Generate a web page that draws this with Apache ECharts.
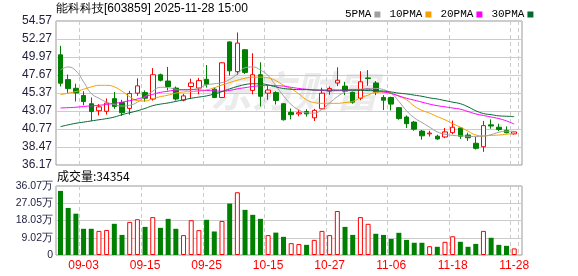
<!DOCTYPE html>
<html><head><meta charset="utf-8">
<script src="https://cdn.jsdelivr.net/npm/echarts@6/dist/echarts.min.js"></script>
<style>html,body{margin:0;padding:0;background:#fff}#c{width:578px;height:276px}</style>
</head><body><div id="c"></div>
<script>
const dates = ['08-29','09-01','09-02','09-03','09-04','09-05','09-08','09-09','09-10','09-11',
 '09-12','09-15','09-16','09-17','09-18','09-19','09-22','09-23','09-24','09-25',
 '09-26','09-29','09-30','10-09','10-10','10-13','10-14','10-15','10-16','10-17',
 '10-20','10-21','10-22','10-23','10-24','10-27','10-28','10-29','10-30','10-31',
 '11-03','11-04','11-05','11-06','11-07','11-10','11-11','11-12','11-13','11-14',
 '11-17','11-18','11-19','11-20','11-21','11-24','11-25','11-26','11-27','11-28'];
const opens = [50.25,47.08,45.97,45.05,44.0,43.1,43.03,44.65,44.15,43.4,
 45.35,45.42,44.6,47.7,46.9,46.0,44.45,46.2,46.0,47.12,
 45.86,44.8,51.9,48.1,50.9,45.7,47.7,45.35,45.42,44.0,
 42.9,42.7,43.0,42.2,43.35,45.6,46.65,46.25,45.45,44.7,
 47.3,46.65,44.8,44.8,43.5,42.3,41.65,40.5,40.15,39.85,
 39.75,40.3,40.9,40.0,38.95,38.5,41.3,41.0,40.6,40.15];
const closes = [46.62,45.93,45.38,44.28,43.0,43.6,44.08,43.65,42.85,45.3,
 46.28,44.7,47.7,47.0,46.2,44.6,45.0,46.65,46.95,46.49,
 44.8,49.23,48.2,51.75,48.0,47.7,44.95,45.75,44.42,41.95,
 42.6,42.85,42.7,43.15,45.35,45.95,47.0,45.6,44.2,46.8,
 47.2,45.5,44.45,43.95,42.1,41.45,40.75,39.9,40.25,39.5,
 40.4,41.0,39.85,39.65,38.3,41.2,41.15,40.7,40.3,40.4];
const lows = [46.2,45.38,44.28,43.8,41.8,42.5,42.61,43.35,42.45,42.6,
 45.0,44.25,44.4,46.85,45.7,44.4,44.3,44.65,45.2,46.07,
 44.72,44.72,47.6,47.7,47.8,45.2,43.65,44.5,43.9,41.85,
 42.0,42.4,42.35,41.8,43.25,45.15,46.25,45.1,44.0,44.45,
 46.3,45.1,43.2,43.15,41.95,40.9,40.55,39.4,39.8,39.4,
 39.6,40.1,39.5,39.25,38.15,37.85,40.8,40.5,40.2,40.05];
const highs = [51.4,47.72,46.55,45.6,44.8,43.95,44.68,45.5,44.5,45.65,
 47.25,45.7,48.55,47.85,48.7,46.2,45.25,47.2,47.3,48.94,
 46.07,49.3,51.95,53.1,51.0,50.45,49.3,46.35,45.6,44.05,
 43.4,43.2,43.3,43.35,46.05,46.2,48.65,46.8,45.55,48.15,
 48.3,46.9,45.1,44.9,43.55,42.5,41.8,40.65,40.55,40.05,
 40.9,41.85,41.0,40.3,39.75,41.8,42.0,41.45,41.1,40.5];
const ma5 = [48.3,48.7,48.2,46.8,45.3,44.7,44.2,43.9,43.7,43.8,
 44.2,44.9,45.6,46.1,46.05,45.85,45.75,45.8,46.0,46.4,
 46.55,46.7,47.1,47.8,48.6,48.7,48.3,47.6,46.3,45.0,
 43.9,43.2,42.85,42.8,43.3,44.1,44.9,45.5,45.85,45.85,
 45.95,45.95,45.8,45.35,44.3,43.1,42.2,41.6,41.0,40.4,
 40.1,39.95,39.9,39.85,39.8,39.85,40.05,40.35,40.5,40.45];
const ma10 = [45.15,45.35,45.55,45.85,46.15,46.35,46.35,46.15,45.6,44.9,
 44.4,44.35,44.65,44.9,45.1,45.35,45.5,45.55,45.6,45.75,
 46.05,46.4,46.7,47.0,47.25,47.4,47.4,47.3,46.95,46.35,
 45.9,45.25,44.5,44.15,44.05,44.05,44.05,44.15,44.3,44.75,
 45.1,45.45,45.5,45.35,44.95,44.5,43.7,43.15,42.8,42.35,
 41.95,41.45,41.0,40.5,40.0,39.9,39.95,40.0,40.1,40.2];
const ma20 = [43.45,43.5,43.55,43.65,43.72,43.8,43.9,44.05,44.2,44.4,
 44.6,44.9,45.2,45.45,45.6,45.75,45.8,45.8,45.75,45.7,
 45.65,45.6,45.7,45.9,46.05,46.2,46.3,46.35,46.3,46.25,
 46.1,45.95,45.85,45.75,45.7,45.66,45.66,45.7,45.75,45.8,
 45.85,45.6,45.5,45.3,45.0,44.7,44.45,44.2,43.95,43.75,
 43.6,43.45,43.3,43.0,42.7,42.5,42.3,42.1,41.8,41.4];
const ma30 = [41.07,41.3,41.5,41.65,41.8,41.95,42.1,42.3,42.6,42.85,
 43.1,43.4,43.75,43.95,44.1,44.3,44.5,44.7,44.85,45.0,
 45.25,45.55,45.9,46.2,46.45,46.55,46.55,46.4,46.15,45.95,
 45.85,45.8,45.8,45.75,45.75,45.75,45.75,45.75,45.72,45.7,
 45.68,45.66,45.62,45.5,45.35,45.25,45.1,44.95,44.75,44.6,
 44.4,44.2,44.0,43.6,43.1,42.75,42.6,42.45,42.4,42.35];
const volumes = [33.5,24.6,21.6,13.7,13.7,12.6,13.1,16.3,10.5,17.3,
 18.7,14.7,19.8,14.2,18.9,13.7,10.4,18.2,13.0,18.4,
 12.3,17.8,26.9,32.8,23.6,21.0,18.9,10.4,11.7,9.5,
 6.2,5.7,5.3,7.9,12.6,10.4,23.0,14.7,10.5,19.8,
 16.3,11.1,10.5,8.4,11.6,7.9,6.4,6.4,4.6,4.3,
 6.9,9.8,6.9,4.3,5.8,12.6,9.0,5.3,4.8,3.4354];
const priceLabels = ['36.17','38.47','40.77','43.07','45.37','47.67','49.97','52.27','54.57'];
const volLabels = ['0','9.02万','18.03万','27.05万','36.07万'];
const priceMin = 36.17, priceMax = 54.57, volMax = 36.07;
const titleText = '能科科技[603859] 2025-11-28 15:00';
const volTitle = '成交量:34354';
const maNames = ['5PMA','10PMA','20PMA','30PMA'];

const CJK = '"Noto Sans CJK SC", sans-serif';
const LAT = '"Liberation Sans", Arial, sans-serif';
const MONO = '"Liberation Mono", monospace';
const UP = '#ff0000', DOWN = '#008000';
const maColors = ['#a0a0a0', '#f5a000', '#ff00ff', '#006a32'];

const candleData = dates.map((d, i) => [opens[i], closes[i], lows[i], highs[i]]);
const volData = volumes.map((v, i) => {
  const up = i > 0 && closes[i] >= closes[i - 1];
  return { value: v, itemStyle: up ? { color: '#ffffff', borderColor: UP, borderWidth: 1 } : { color: DOWN, borderColor: DOWN, borderWidth: 0 } };
});
const xInterval = (idx) => (idx - 3) % 8 === 0;
const dashed = { show: true, interval: xInterval, lineStyle: { color: '#cccccc', width: 1, type: [4, 3] } };

const chart = echarts.init(document.getElementById('c'), null, { renderer: 'canvas' });
const maSeries = [ma5, ma10, ma20, ma30].map((arr, k) => ({
  name: maNames[k], type: 'line', xAxisIndex: 1, yAxisIndex: 1, data: arr,
  smooth: true, showSymbol: false, symbol: 'none', color: maColors[k],
  lineStyle: { width: 1, color: maColors[k] }, z: 3, silent: true
}));
chart.setOption({
  animation: false,
  backgroundColor: '#ffffff',
  legend: {
    data: maNames, left: 340, top: 4, align: 'right', icon: 'rect',
    itemWidth: 6, itemHeight: 6, itemGap: 9, selectedMode: false,
    textStyle: { fontSize: 11, color: '#000', fontFamily: MONO, padding: [0, -2, 0, 0] }
  },
  graphic: [
    { type: 'text', left: 56, top: 3, style: { text: titleText, fontSize: 12, fill: '#000', font: '12px ' + CJK } },
    { type: 'text', left: 57, top: 170, style: { text: volTitle, fill: '#000', font: '12px ' + CJK } },
    { type: 'text', left: 210, top: 70, z: -1, silent: true, style: { text: '东方财富', fill: '#ebebeb', font: 'italic bold 42px ' + CJK } }
  ],
  grid: [
    { left: 56, top: 21, width: 466, height: 144, show: true, borderColor: '#999', borderWidth: 1, backgroundColor: 'transparent', containLabel: false, outerBoundsMode: 'none' },
    { left: 56.65, top: 21, width: 461.4, height: 144, containLabel: false, outerBoundsMode: 'none' },
    { left: 56, top: 186, width: 466, height: 69, show: true, borderColor: '#999', borderWidth: 1, backgroundColor: 'transparent', containLabel: false, outerBoundsMode: 'none' },
    { left: 56.65, top: 186, width: 461.4, height: 69, containLabel: false, outerBoundsMode: 'none' }
  ],
  xAxis: [
    { gridIndex: 0, type: 'value', min: 0, max: 1, show: false },
    { gridIndex: 1, type: 'category', data: dates, boundaryGap: true, axisLine: { show: false }, axisTick: { show: false }, axisLabel: { show: false }, splitLine: dashed },
    { gridIndex: 2, type: 'value', min: 0, max: 1, show: false },
    { gridIndex: 3, type: 'category', data: dates, boundaryGap: true, axisLine: { show: false }, axisTick: { show: false },
      axisLabel: { show: true, interval: xInterval, color: UP, fontSize: 12, fontFamily: LAT, margin: 5, hideOverlap: false }, splitLine: dashed }
  ],
  yAxis: [
    { gridIndex: 0, type: 'value', min: 0, max: 8, interval: 1, axisLine: { show: false }, axisTick: { show: false },
      axisLabel: { formatter: v => priceLabels[v], color: '#1e1e3c', fontSize: 12, fontFamily: LAT, margin: 4 },
      splitLine: { show: true, lineStyle: { color: '#cccccc', width: 1 } } },
    { gridIndex: 1, type: 'value', min: priceMin, max: priceMax, show: false },
    { gridIndex: 2, type: 'value', min: 0, max: 4, interval: 1, axisLine: { show: false }, axisTick: { show: false },
      axisLabel: { formatter: v => volLabels[v], color: '#1e1e3c', fontSize: 10.5, fontFamily: LAT, margin: 3 },
      splitLine: { show: true, lineStyle: { color: '#cccccc', width: 1 } } },
    { gridIndex: 3, type: 'value', min: 0, max: volMax, show: false }
  ],
  series: [
    { type: 'candlestick', xAxisIndex: 1, yAxisIndex: 1, data: candleData, barWidth: 5, z: 2, silent: true,
      itemStyle: { color: '#ffffff', color0: DOWN, borderColor: UP, borderColor0: DOWN, borderWidth: 1 } },
    ...maSeries,
    { type: 'bar', xAxisIndex: 3, yAxisIndex: 3, data: volData, barWidth: 5, silent: true }
  ]
});
</script></body></html>
